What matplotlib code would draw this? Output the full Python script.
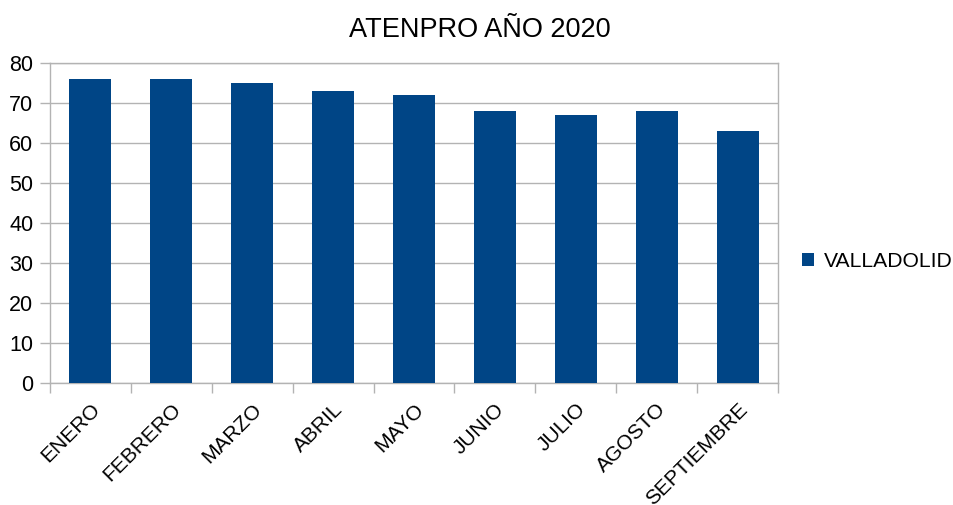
import matplotlib.pyplot as plt
import numpy as np

plt.rcParams['font.family'] = ['Liberation Sans', 'DejaVu Sans']

# datos del grafico
meses = ["ENERO", "FEBRERO", "MARZO", "ABRIL", "MAYO", "JUNIO", "JULIO", "AGOSTO", "SEPTIEMBRE"]
valladolid = [76, 76, 75, 73, 72, 68, 67, 68, 63]
y_ticks = [0, 10, 20, 30, 40, 50, 60, 70, 80]

fig = plt.figure(figsize=(9.54, 5.05), dpi=100)
ax = fig.add_axes([0.0524, 0.2416, 0.7631, 0.6334])

x = np.arange(len(meses))
ax.bar(x, valladolid, width=0.52, color='#004586', label='VALLADOLID', zorder=3)

ax.set_xlim(-0.5, len(meses) - 0.5)
ax.set_ylim(0, 80)
ax.set_yticks(y_ticks)
ax.yaxis.grid(True, color='#b3b3b3', linewidth=1, zorder=0)

ax.set_xticks(x)
ax.set_xticklabels(meses, rotation=45, ha='right', rotation_mode='anchor', fontsize=15)
ax.tick_params(axis='x', length=0, pad=12)
# ticks between categories
ax.set_xticks(np.arange(len(meses) + 1) - 0.5, minor=True)
ax.tick_params(axis='x', which='minor', length=7, color='#b3b3b3', width=1)
ax.tick_params(axis='y', length=7, color='#b3b3b3', width=1, labelsize=15.5, pad=5)

for s in ax.spines.values():
    s.set_color('#b3b3b3')
    s.set_linewidth(1)

fig.suptitle("ATENPRO AÑO 2020", fontsize=19.5, x=0.503, y=0.94, va='center')
fig.legend(loc='center left', bbox_to_anchor=(0.841, 0.482), frameon=False,
           fontsize=15.2, handlelength=0.55, handleheight=0.55, handletextpad=0.45,
           borderpad=0, borderaxespad=0)

fig.savefig('out.png', dpi=100)
